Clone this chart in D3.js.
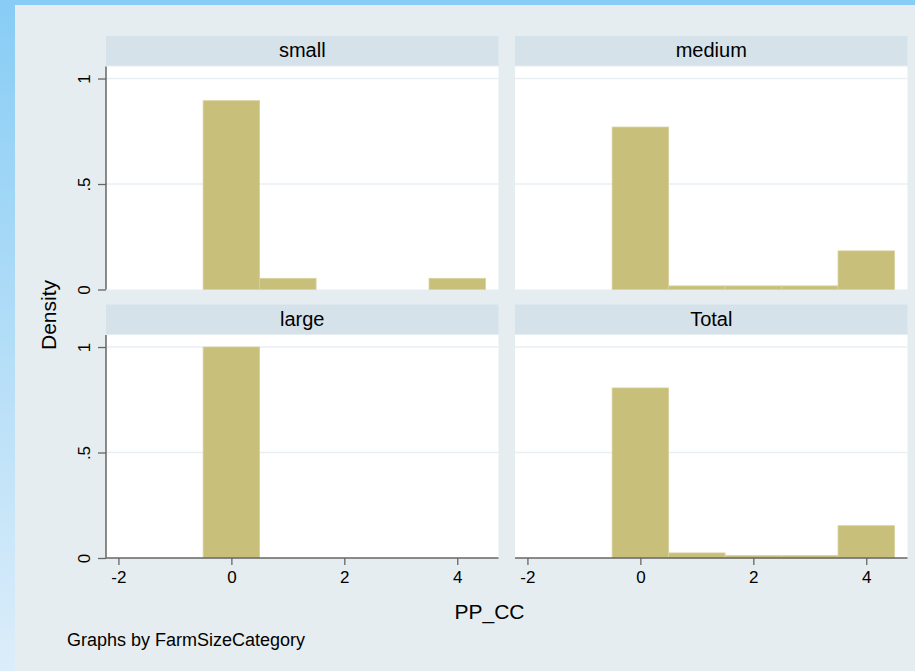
<!DOCTYPE html>
<html>
<head>
<meta charset="utf-8">
<title>PP_CC by FarmSizeCategory</title>
<script src="https://d3js.org/d3.v7.min.js"></script>
<style>
  body { margin: 0; background: #88cdf5; }
  svg { display: block; font-family: "Liberation Sans", Arial, sans-serif; }
  .axis text { font-family: "Liberation Sans", Arial, sans-serif; font-size: 17px; fill: #000; }
</style>
</head>
<body>
<svg id="chart" width="915" height="671"></svg>
<script>
// histogram bins (centres) and densities
var binCenters = [0, 1, 2, 3, 4];
var panels = ["small", "medium", "large", "Total"];
var smallDensity  = [0.895, 0.053, 0, 0, 0.053];
var mediumDensity = [0.77, 0.017, 0.017, 0.017, 0.183];
var largeDensity  = [1.0, 0, 0, 0, 0];
var totalDensity  = [0.806, 0.024, 0.012, 0.012, 0.153];
var xTicks = [-2, 0, 2, 4];
var yTicks = [0, 0.5, 1];

var densities = [smallDensity, mediumDensity, largeDensity, totalDensity];

var svg = d3.select("#chart");

// page background with the light gradient down the left edge
var defs = svg.append("defs");
var grad = defs.append("linearGradient").attr("id", "side")
  .attr("x1", 0).attr("y1", 0).attr("x2", 0).attr("y2", 1);
grad.append("stop").attr("offset", "0%").attr("stop-color", "#88cdf5");
grad.append("stop").attr("offset", "100%").attr("stop-color", "#dcedfa");
svg.append("rect").attr("width", 915).attr("height", 671).attr("fill", "#88cdf5");
svg.append("rect").attr("x", 0).attr("y", 5).attr("width", 15).attr("height", 666).attr("fill", "url(#side)");
svg.append("rect").attr("x", 15).attr("y", 5).attr("width", 900).attr("height", 666).attr("fill", "#e6edf0");

var colX = [106, 515], plotW = 392.5;
var rowY = [66.5, 335], plotH = 223;
var stripH = 29.5;

var x = d3.scaleLinear().domain([-2.22, 4.73]).range([0, plotW]);
var y = d3.scaleLinear().domain([0, 1.057]).range([plotH, 0]);
var yFmt = function (d) { return d === 0 ? "0" : d === 1 ? "1" : ".5"; };

panels.forEach(function (name, i) {
  var col = i % 2, row = Math.floor(i / 2);
  var g = svg.append("g").attr("transform", "translate(" + colX[col] + "," + rowY[row] + ")");

  // strip
  g.append("rect").attr("x", 0).attr("y", -stripH - 1).attr("width", plotW).attr("height", stripH)
    .attr("fill", "#d6e2e9");
  g.append("text").attr("x", plotW / 2).attr("y", -9.5).attr("text-anchor", "middle")
    .attr("font-size", 20).attr("fill", "#000").text(name);

  // plot region
  g.append("rect").attr("width", plotW).attr("height", plotH).attr("fill", "#ffffff");

  g.selectAll("line.grid").data(yTicks.filter(function (d) { return d > 0; })).enter()
    .append("line").attr("class", "grid")
    .attr("x1", 0).attr("x2", plotW)
    .attr("y1", function (d) { return y(d); }).attr("y2", function (d) { return y(d); })
    .attr("stroke", "#e7eff3").attr("stroke-width", 1.5);

  var bins = binCenters.map(function (c, k) { return { c: c, v: densities[i][k] }; })
    .filter(function (d) { return d.v > 0; });
  g.selectAll("rect.bar").data(bins).enter()
    .append("rect").attr("class", "bar")
    .attr("x", function (d) { return x(d.c - 0.5); })
    .attr("width", function (d) { return x(d.c + 0.5) - x(d.c - 0.5); })
    .attr("y", function (d) { return y(d.v); })
    .attr("height", function (d) { return y(0) - y(d.v); })
    .attr("fill", "#c8bf7a").attr("stroke", "#d8d19c").attr("stroke-width", 0.8);

  if (col === 0) {
    var ya = g.append("g").attr("class", "axis")
      .call(d3.axisLeft(y).tickValues(yTicks).tickFormat(yFmt).tickSize(8).tickPadding(7));
    ya.attr("font-size", null).attr("font-family", null);
    ya.select(".domain").attr("stroke", "#666").attr("stroke-width", 1.5).attr("d", "M0," + plotH + "V0");
    ya.selectAll(".tick line").attr("stroke", "#666").attr("stroke-width", 1.3);
    ya.selectAll(".tick text")
      .attr("text-anchor", "middle").attr("dy", 0)
      .attr("transform", "translate(-16,0) rotate(-90)")
      .attr("x", 0).attr("y", 0);
  }
  if (row === 1) {
    var xa = g.append("g").attr("class", "axis").attr("transform", "translate(0," + plotH + ")")
      .call(d3.axisBottom(x).tickValues(xTicks).tickFormat(function (d) { return String(d); })
        .tickSize(7).tickPadding(6));
    xa.attr("font-size", null).attr("font-family", null);
    xa.select(".domain").attr("stroke", "#666").attr("stroke-width", 1.5).attr("d", "M0,0H" + plotW);
    xa.selectAll(".tick line").attr("stroke", "#666").attr("stroke-width", 1.3);
  }
});

svg.append("text").attr("transform", "translate(56,315) rotate(-90)").attr("text-anchor", "middle")
  .attr("font-size", 21).attr("fill", "#000").text("Density");
svg.append("text").attr("x", 489.5).attr("y", 619).attr("text-anchor", "middle")
  .attr("font-size", 21).attr("fill", "#000").text("PP_CC");
svg.append("text").attr("x", 67).attr("y", 646).attr("font-size", 18).attr("fill", "#000")
  .text("Graphs by FarmSizeCategory");
</script>
</body>
</html>
